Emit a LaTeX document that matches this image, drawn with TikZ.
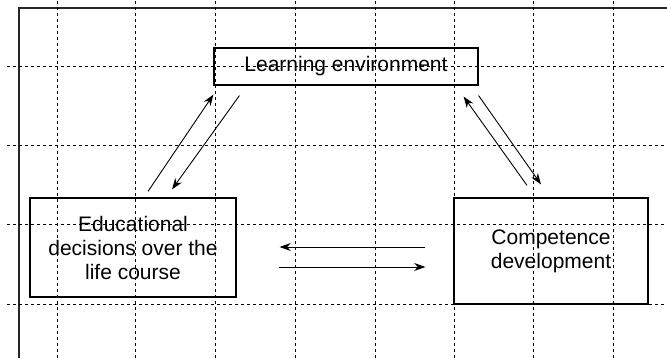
\documentclass[tikz,border=0pt]{standalone}
\usepackage{fontspec}
\setmainfont{Liberation Sans}
\usetikzlibrary{arrows.meta,calc}

\begin{document}
\begin{tikzpicture}[x=0.5pt, y=0.5pt]
        \useasboundingbox (0,0) rectangle (667,358);

        \tikzstyle{box} = [draw, rectangle, line width=0.6pt, inner sep=0pt, align=center,
                           font=\fontsize{10.5}{12}\selectfont]
        \tikzstyle{grid} = [line width=0.4pt, dash pattern=on 1.6pt off 1.4pt]
        \tikzstyle{link} = [line width=0.45pt, -{Stealth[length=5.6pt, width=4pt]}]

        % frame and grid
        \draw [line width=1pt, black!85] (19,0) -- (19,350) -- (667,350);
        \foreach \gx in {57,135,215,295,375,454,533,613}
            \draw [grid] (\gx,0) -- (\gx,358);
        \foreach \gy in {54,134,213,292}
            \draw [grid] (7,\gy) -- (667,\gy);

        \node (learn) [box, minimum width=132pt, minimum height=18.5pt] at (346,291.5) {Learning environment};
        \node (edu) [box, minimum width=103pt, minimum height=49.5pt] at (133,110.5) {Educational \\ decisions over the \\ life course};
        \node (comp) [box, minimum width=97pt, minimum height=53pt] at (551,107) {Competence \\ development};

        \draw [link] ($(edu.north)+(15,6)$) -- ($(learn.south west)+(0,-9)$);
        \draw [link] ($(learn.south west)+(26,-10)$) -- ($(edu.north)+(39,8)$);
        \draw [link] ($(comp.north)+(-24,12)$) -- ($(learn.south east)+(-15,-11)$);
        \draw [link] ($(learn.south east)+(0,-10)$) -- ($(comp.north)+(-10,13)$);

        \draw [link] ($(comp.west)+(-28,4)$) -- ($(edu.east)+(43,0.5)$);
        \draw [link] ($(edu.east)+(42,-19.5)$) -- ($(comp.west)+(-28,-16)$);

    \end{tikzpicture}
\end{document}
